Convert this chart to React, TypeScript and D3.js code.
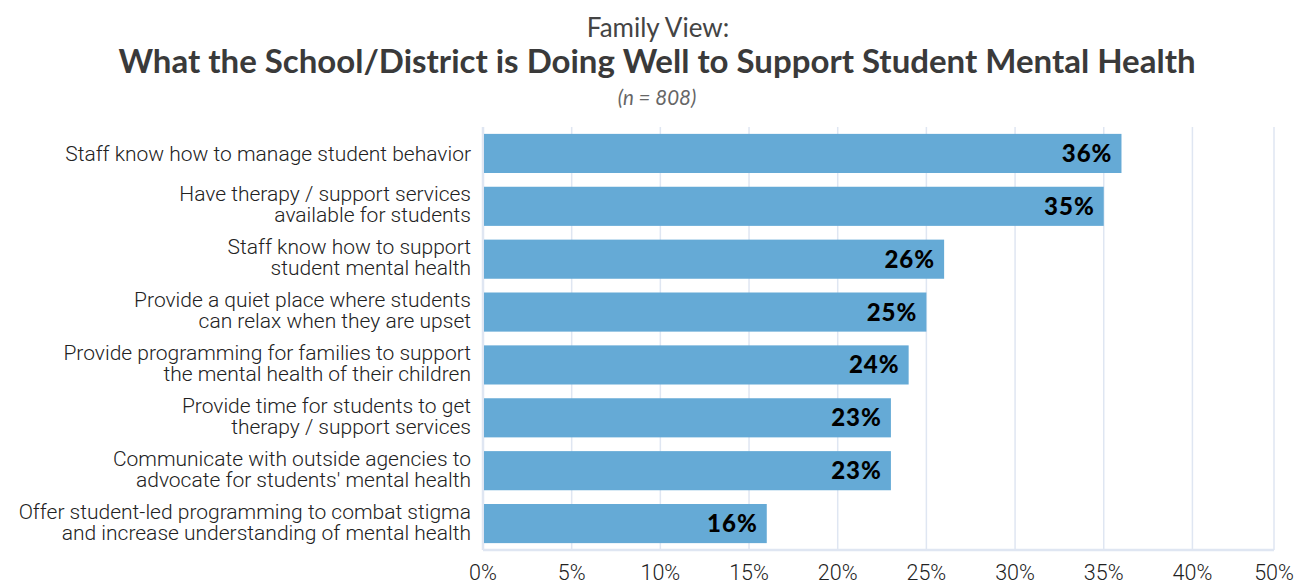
import React from "react";
import * as d3 from "d3";

const categories: string[][] = [
  ["Staff know how to manage student behavior"],
  ["Have therapy / support services", "available for students"],
  ["Staff know how to support", "student mental health"],
  ["Provide a quiet place where students", "can relax when they are upset"],
  ["Provide programming for families to support", "the mental health of their children"],
  ["Provide time for students to get", "therapy / support services"],
  ["Communicate with outside agencies to", "advocate for students' mental health"],
  ["Offer student-led programming to combat stigma", "and increase understanding of mental health"],
];
const values: number[] = [36, 35, 26, 25, 24, 23, 23, 16];
const tickValues: number[] = [0, 5, 10, 15, 20, 25, 30, 35, 40, 44.6];
const tickLabels: string[] = ["0%", "5%", "10%", "15%", "20%", "25%", "30%", "35%", "40%", "50%"];

const W = 1307;
const H = 586;
const M = { left: 483, right: 33, top: 127, bottom: 36 };

export default function App() {
  const x = d3.scaleLinear().domain([0, 44.6]).range([M.left, W - M.right]);
  const y = d3
    .scaleBand<number>()
    .domain(d3.range(values.length))
    .range([M.top, H - M.bottom])
    .paddingInner(0.26)
    .paddingOuter(0.13);
  const grid = "#dfe6f2";
  return (
    <svg
      width={W}
      height={H}
      style={{ position: "absolute", left: 0, top: 0, background: "#fff" }}
    >
      <text x={658} y={37} textAnchor="middle" fontFamily="Lato" fontSize={26} fill="#444">
        Family View:
      </text>
      <text x={657} y={73} textAnchor="middle" fontFamily="Lato" fontWeight={700} fontSize={33} fill="#3a3a3a">
        What the School/District is Doing Well to Support Student Mental Health
      </text>
      <text x={657} y={105} textAnchor="middle" fontFamily="Lato" fontStyle="italic" fontSize={20.5} fill="#666">
        (n = 808)
      </text>
      {tickValues.map((t, i) => (
        <line key={"g" + i} x1={x(t)} x2={x(t)} y1={M.top} y2={H - M.bottom} stroke={grid} strokeWidth={1.5} />
      ))}
      <line x1={M.left} x2={M.left} y1={M.top} y2={H - M.bottom} stroke={grid} strokeWidth={2.5} />
      <line x1={M.left} x2={W - M.right} y1={H - M.bottom} y2={H - M.bottom} stroke={grid} strokeWidth={2.5} />
      {values.map((v, i) => (
        <g key={"b" + i}>
          <rect
            x={x(0) + 1}
            y={y(i)!}
            width={x(v) - x(0) - 1}
            height={y.bandwidth()}
            fill="#65aad6"
          />
          <text
            x={x(v) - 9}
            y={y(i)! + y.bandwidth() / 2 + 8.5}
            textAnchor="end"
            fontFamily="Lato"
            fontWeight={900}
            fontSize={24}
            letterSpacing={1}
            fill="#000"
          >
            {v}%
          </text>
        </g>
      ))}
      {categories.map((lines, i) => {
        const cy = y(i)! + y.bandwidth() / 2;
        const lh = 21;
        const start = lines.length === 1 ? cy + 7.5 : cy - ((lines.length - 1) * lh) / 2 + 5.5;
        return (
          <text
            key={"c" + i}
            textAnchor="end"
            fontFamily="Roboto"
            fontWeight={300}
            fontSize={21}
            fill="#222"
          >
            {lines.map((l, j) => (
              <tspan key={j} x={471} y={start + j * lh}>
                {l}
              </tspan>
            ))}
          </text>
        );
      })}
      {tickValues.map((t, i) => (
        <text
          key={"t" + i}
          x={x(t)}
          y={580}
          textAnchor="middle"
          fontFamily="Roboto"
          fontWeight={300}
          fontSize={21.5}
          fill="#222"
        >
          {tickLabels[i]}
        </text>
      ))}
    </svg>
  );
}
